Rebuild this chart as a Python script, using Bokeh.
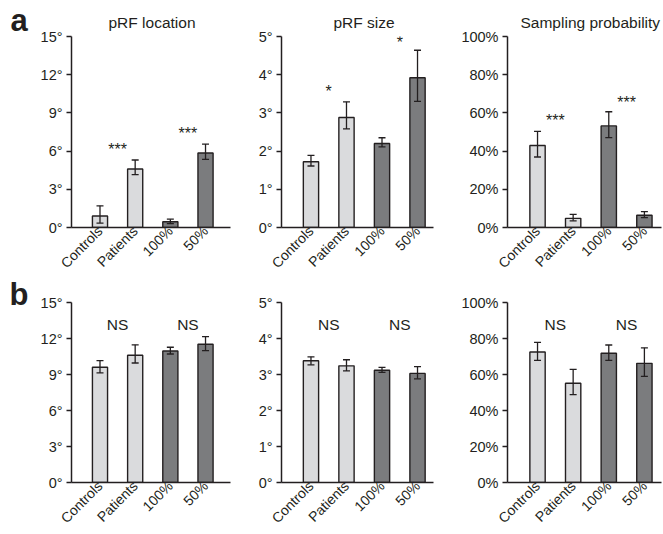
from bokeh.plotting import figure
from bokeh.models import ColumnDataSource, Range1d, FixedTicker, Whisker, TeeHead, Title
from bokeh.core.properties import value
from bokeh.layouts import column, row
from bokeh.embed import file_html
from bokeh.resources import INLINE

# ---------------- data ----------------
categories = ["Controls", "Patients", "100%", "50%"]
bar_colors = ["#dadbdd", "#dadbdd", "#7b7c7e", "#7b7c7e"]

titles = ["pRF location", "pRF size", "Sampling probability"]
panel_letters = ["a", "b"]

deg15_ticks = [0, 3, 6, 9, 12, 15]
deg5_ticks = [0, 1, 2, 3, 4, 5]
pct_ticks = [0, 20, 40, 60, 80, 100]

# row a
a1_mean = [0.9, 4.6, 0.45, 5.85]
a1_lo = [0.35, 4.15, 0.3, 5.35]
a1_hi = [1.7, 5.3, 0.65, 6.55]
a2_mean = [1.72, 2.88, 2.2, 3.92]
a2_lo = [1.61, 2.58, 2.11, 3.3]
a2_hi = [1.89, 3.29, 2.35, 4.64]
a3_mean = [42.9, 4.8, 53.2, 6.4]
a3_lo = [36.9, 3.5, 47.1, 5.2]
a3_hi = [50.3, 6.9, 60.6, 8.3]

a1_sig = ["***", "***"]
a1_sig_y = [6.15, 7.35]
a2_sig = ["*", "*"]
a2_sig_y = [3.55, 4.84]
a3_sig = ["***", "***"]
a3_sig_y = [56.0, 65.5]

# row b
b1_mean = [9.6, 10.6, 10.96, 11.52]
b1_lo = [9.13, 9.96, 10.71, 10.99]
b1_hi = [10.16, 11.47, 11.27, 12.16]
b2_mean = [3.38, 3.24, 3.12, 3.03]
b2_lo = [3.27, 3.10, 3.06, 2.88]
b2_hi = [3.49, 3.41, 3.20, 3.22]
b3_mean = [72.5, 55.1, 71.8, 66.2]
b3_lo = [67.9, 48.8, 67.9, 59.0]
b3_hi = [77.9, 62.9, 76.4, 74.8]

b1_sig = ["NS", "NS"]
b1_sig_y = [13.16, 13.16]
b2_sig = ["NS", "NS"]
b2_sig_y = [4.39, 4.39]
b3_sig = ["NS", "NS"]
b3_sig_y = [87.8, 87.8]

# ---------------- style ----------------
FONT = "Liberation Sans"
INK = "#231f20"
TICK_FS = "14.5px"
XLAB_FS = "14px"
TITLE_FS = "15.5px"


def make_panel(mean, lo, hi, sig, sig_y, sig_fs, yticks, ysuffix, ymax,
               width, height, bl, br, bt, bb, xstart, xend, title=None,
               title_offset=0):
    xs = list(range(1, len(categories) + 1))
    p = figure(width=width, height=height, output_backend="svg",
               toolbar_location=None, x_range=Range1d(xstart, xend),
               y_range=Range1d(0, ymax), min_border_left=bl, min_border_right=br,
               min_border_top=bt, min_border_bottom=bb)
    p.outline_line_color = None
    p.xgrid.visible = False
    p.ygrid.visible = False
    p.background_fill_color = "white"
    p.border_fill_color = "white"

    src = ColumnDataSource(dict(x=xs, top=mean, lo=lo, hi=hi, color=bar_colors,
                                cat=categories))
    p.vbar(x="x", top="top", width=0.43, bottom=0, source=src, fill_color="color",
           line_color=INK, line_width=1.4)
    w = Whisker(base="x", upper="hi", lower="lo", source=src, line_color=INK,
                line_width=1.3, level="overlay",
                upper_head=TeeHead(size=7, line_color=INK, line_width=1.3),
                lower_head=TeeHead(size=7, line_color=INK, line_width=1.3))
    p.add_layout(w)

    sx = [1.5, 3.5]
    p.text(x=sx, y=sig_y, text=sig, text_align="center", text_baseline="middle",
           text_font_size=sig_fs, text_color=INK, text_font=value(FONT))

    # axes
    p.xaxis.ticker = FixedTicker(ticks=xs)
    p.xaxis.major_label_overrides = {x: c for x, c in zip(xs, categories)}
    p.xaxis.major_label_orientation = 0.785
    p.xaxis.major_tick_line_color = None
    p.xaxis.minor_tick_line_color = None
    p.xaxis.major_tick_out = 0
    p.xaxis.major_tick_in = 0
    p.xaxis.major_label_standoff = 1
    p.xaxis.major_label_text_font = FONT
    p.xaxis.major_label_text_font_size = XLAB_FS
    p.xaxis.major_label_text_color = INK
    p.xaxis.axis_line_color = INK
    p.xaxis.axis_line_width = 1.5

    p.yaxis.ticker = FixedTicker(ticks=yticks)
    p.yaxis.major_label_overrides = {t: f"{t}{ysuffix}" for t in yticks}
    p.yaxis.minor_tick_line_color = None
    p.yaxis.major_tick_out = 5
    p.yaxis.major_tick_in = 0
    p.yaxis.major_tick_line_color = INK
    p.yaxis.major_tick_line_width = 1.3
    p.yaxis.major_label_standoff = 4
    p.yaxis.major_label_text_font = FONT
    p.yaxis.major_label_text_font_size = TICK_FS
    p.yaxis.major_label_text_color = INK
    p.yaxis.axis_line_color = INK
    p.yaxis.axis_line_width = 1.5

    if title is not None:
        p.title = Title(text=title, align="left", offset=title_offset, text_font=FONT,
                        text_font_size=TITLE_FS, text_font_style="normal",
                        text_color=INK, standoff=11)
    return p


TOTAL_H = 534
LW = 36
# letter strip: a bare figure whose ranges are its own pixel grid
letters = figure(width=LW, height=TOTAL_H, output_backend="svg", toolbar_location=None,
                 x_range=Range1d(0, LW), y_range=Range1d(0, TOTAL_H), title=None,
                 min_border_left=0, min_border_right=0, min_border_top=0,
                 min_border_bottom=0)
letters.axis.visible = False
letters.grid.visible = False
letters.outline_line_color = None
letter_x = [10, 9]
letter_baseline = [20, 294]  # distance from top of the page
letters.text(x=letter_x, y=[TOTAL_H - b for b in letter_baseline], text=panel_letters,
             text_font=value(FONT), text_font_size="31px", text_font_style="bold",
             text_color=INK, text_baseline="alphabetic", text_align="left")

HA, HB = 286, 248
a1 = make_panel(a1_mean, a1_lo, a1_hi, a1_sig, a1_sig_y, "16px", deg15_ticks, "°", 15,
                204, HA, 35, 10, 36, 59, 0.19, 4.71, titles[0], 37)
a2 = make_panel(a2_mean, a2_lo, a2_hi, a2_sig, a2_sig_y, "16px", deg5_ticks, "°", 5,
                212, HA, 41, 19, 36, 59, 0.17, 4.45, titles[1], 52)
a3 = make_panel(a3_mean, a3_lo, a3_hi, a3_sig, a3_sig_y, "16px", pct_ticks, "%", 100,
                211, HA, 55, 2, 36, 59, 0.157, 4.48, titles[2], 13)

b1 = make_panel(b1_mean, b1_lo, b1_hi, b1_sig, b1_sig_y, "15.5px", deg15_ticks, "°", 15,
                204, HB, 35, 10, 16, 52, 0.19, 4.71)
b2 = make_panel(b2_mean, b2_lo, b2_hi, b2_sig, b2_sig_y, "15.5px", deg5_ticks, "°", 5,
                212, HB, 41, 19, 16, 52, 0.17, 4.45)
b3 = make_panel(b3_mean, b3_lo, b3_hi, b3_sig, b3_sig_y, "15.5px", pct_ticks, "%", 100,
                211, HB, 55, 2, 16, 52, 0.157, 4.48)

panels = column(row(a1, a2, a3, spacing=0), row(b1, b2, b3, spacing=0), spacing=0)
layout = row(letters, panels, spacing=0)

open("out.html", "w").write(file_html(layout, INLINE))
